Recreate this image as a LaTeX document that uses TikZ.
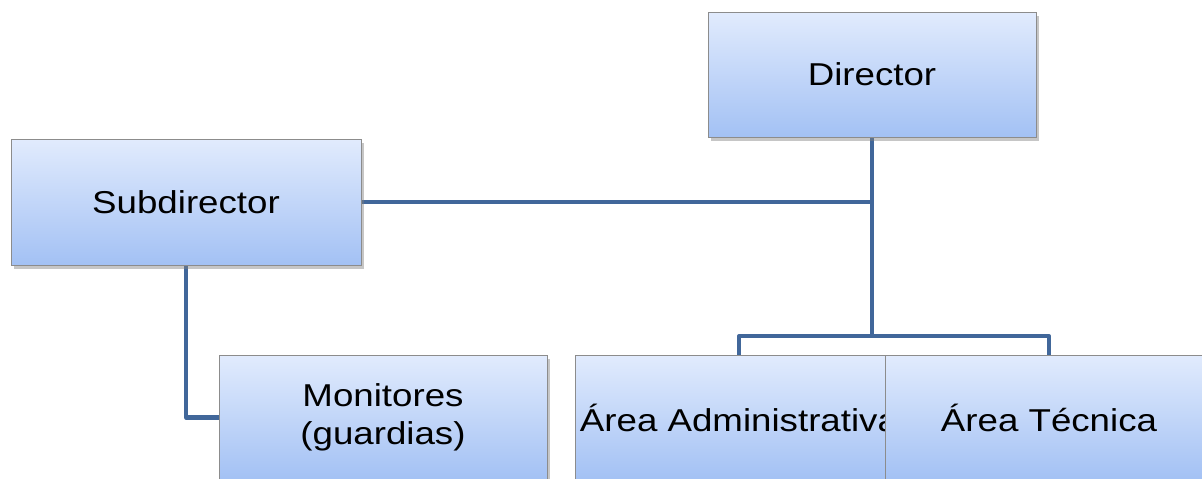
\documentclass[tikz,border=0pt]{standalone}
\usepackage{fontspec}
\setmainfont{Liberation Sans}
\usepackage{graphicx}
\usetikzlibrary{shadows, backgrounds}

\definecolor{cajaarriba}{RGB}{225,235,253}
\definecolor{cajaabajo}{RGB}{163,193,244}
\definecolor{linea}{RGB}{65,103,154}
\newcommand{\ancho}[1]{\scalebox{1.16}[1]{#1}}

\tikzset{
	caja/.style={draw=gray!90, rectangle, inner sep=0pt, minimum width=6.56cm, minimum height=2.5cm,
		top color=cajaarriba, bottom color=cajaabajo, font=\fontsize{18}{21.6}\selectfont, align=center,
		drop shadow={shadow xshift=1.5pt, shadow yshift=-2pt, opacity=0.45}},
	enlace/.style={draw=linea, line width=2.3pt, line join=round}
}

\begin{document}
\begin{tikzpicture}[x=0.02cm, y=-0.02cm]
		\useasboundingbox (0,0) rectangle (1202,478);
		
		\node[caja] (dir) at (872,74.5) {\ancho{Director}};
		\node[caja, minimum width=7cm, minimum height=2.52cm] (sub) at (186,202) {\ancho{Subdirector}};
		\node[caja] (mon) at (383,417.5) {\ancho{Monitores}\\\ancho{(guardias)}};
		\node[caja] (adm) at (739,417.5) {\ancho{Área Administrativa}};
		\node[caja] (tec) at (1049,417.5) {\ancho{Área Técnica}};
		
		% lineas por debajo de las cajas
		\begin{scope}[on background layer]
			\coordinate (rama) at (872,336);
			\draw[enlace] (dir.south) -- (rama);
			\draw[enlace] (sub.east) -- (sub.east -| dir.south);
			\draw[enlace] (sub.south) |- (mon.west);
			\draw[enlace] (adm.north) |- (rama) -| (tec.north);
		\end{scope}
	\end{tikzpicture}
\end{document}
